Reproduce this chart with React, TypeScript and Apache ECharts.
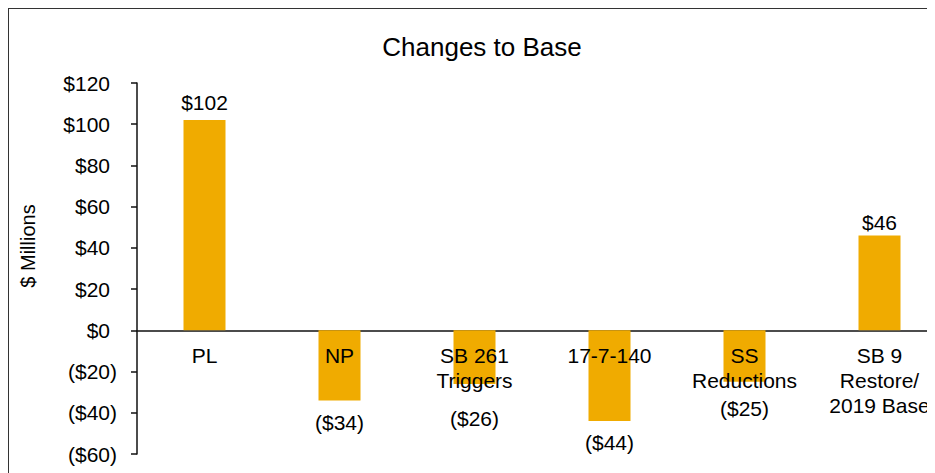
import React, { useEffect, useRef } from "react";
import * as echarts from "echarts";

const categories = ["PL", "NP", "SB 261\nTriggers", "17-7-140", "SS\nReductions", "SB 9\nRestore/\n2019 Base"];
const values = [102, -34, -26, -44, -25, 46];
const yMin = -60;
const yMax = 120;
const yInterval = 20;
const titleText = "Changes to Base";
const yAxisTitle = "$ Millions";

// label gaps (style only)
const labelGap = [7, 12, 24, 11, 16, 3];

const FONT = "'Liberation Sans', Arial, sans-serif";
const BAR = "#F0AB00";
const FS = 21;

function fmt(v: number): string {
  return v < 0 ? `($${Math.abs(v)})` : `$${v}`;
}

export default function App() {
  const ref = useRef<HTMLDivElement>(null);
  useEffect(() => {
    document.documentElement.style.overflow = "hidden";
    document.body.style.overflow = "hidden";
    const chart = echarts.init(ref.current!, null, { renderer: "svg" });
    chart.setOption({
      animation: false,
      textStyle: { fontFamily: FONT, color: "#000" },
      title: {
        text: titleText,
        left: 468,
        top: 20,
        textAlign: "center",
        textStyle: { fontFamily: FONT, fontSize: 26, fontWeight: "normal", color: "#000" },
      },
      graphic: [
        {
          type: "text",
          x: 19,
          y: 237,
          rotation: Math.PI / 2,
          style: {
            text: yAxisTitle,
            font: `20px ${FONT}`,
            fill: "#000",
            textAlign: "center",
            textVerticalAlign: "middle",
          },
        },
      ],
      grid: { left: 128, top: 74, width: 810, height: 371, containLabel: false, outerBoundsMode: "none" },
      xAxis: {
        type: "category",
        data: categories,
        axisLine: { onZero: true, lineStyle: { color: "#111", width: 1.5 } },
        axisTick: { show: false },
        axisLabel: { show: false },
      },
      yAxis: {
        type: "value",
        min: yMin,
        max: yMax,
        interval: yInterval,
        splitLine: { show: false },
        axisLine: { show: true, lineStyle: { color: "#111", width: 1.5 } },
        axisTick: { show: true, length: 6, lineStyle: { color: "#111", width: 1.5 } },
        axisLabel: {
          margin: 20,
          fontFamily: FONT,
          fontSize: FS,
          color: "#000",
          formatter: (v: number) => (v < 0 ? `{n|${fmt(v)}}` : `{p|${fmt(v)}}`),
          rich: {
            n: { fontFamily: FONT, fontSize: FS, color: "#000" },
            p: { fontFamily: FONT, fontSize: FS, color: "#000", padding: [0, 7, 0, 0] },
          },
        },
      },
      series: [
        {
          type: "bar",
          barWidth: 42,
          z: 2,
          itemStyle: { color: BAR },
          data: values.map((v, i) => ({
            value: v,
            label: {
              show: true,
              position: v < 0 ? "bottom" : "top",
              distance: labelGap[i],
              formatter: () => fmt(v),
              fontFamily: FONT,
              fontSize: FS,
              color: "#000",
            },
          })),
        },
        {
          type: "scatter",
          z: 10,
          symbolSize: 0,
          silent: true,
          itemStyle: { opacity: 1 },
          data: categories.map((c) => ({ value: 0, name: c })),
          label: {
            show: true,
            position: "bottom",
            distance: 13,
            formatter: (p: any) => p.name,
            fontFamily: FONT,
            fontSize: FS,
            lineHeight: 25,
            align: "center",
            color: "#000",
            opacity: 1,
          },
        },
      ],
    });
    return () => chart.dispose();
  }, []);
  return (
    <div
      style={{
        width: 927,
        height: 465,
        borderLeft: "1.5px solid #333",
        borderTop: "1.5px solid #333",
        boxSizing: "border-box",
        overflow: "hidden",
        background: "#fff",
      }}
    >
      <div ref={ref} style={{ width: 926, height: 464 }} />
    </div>
  );
}
